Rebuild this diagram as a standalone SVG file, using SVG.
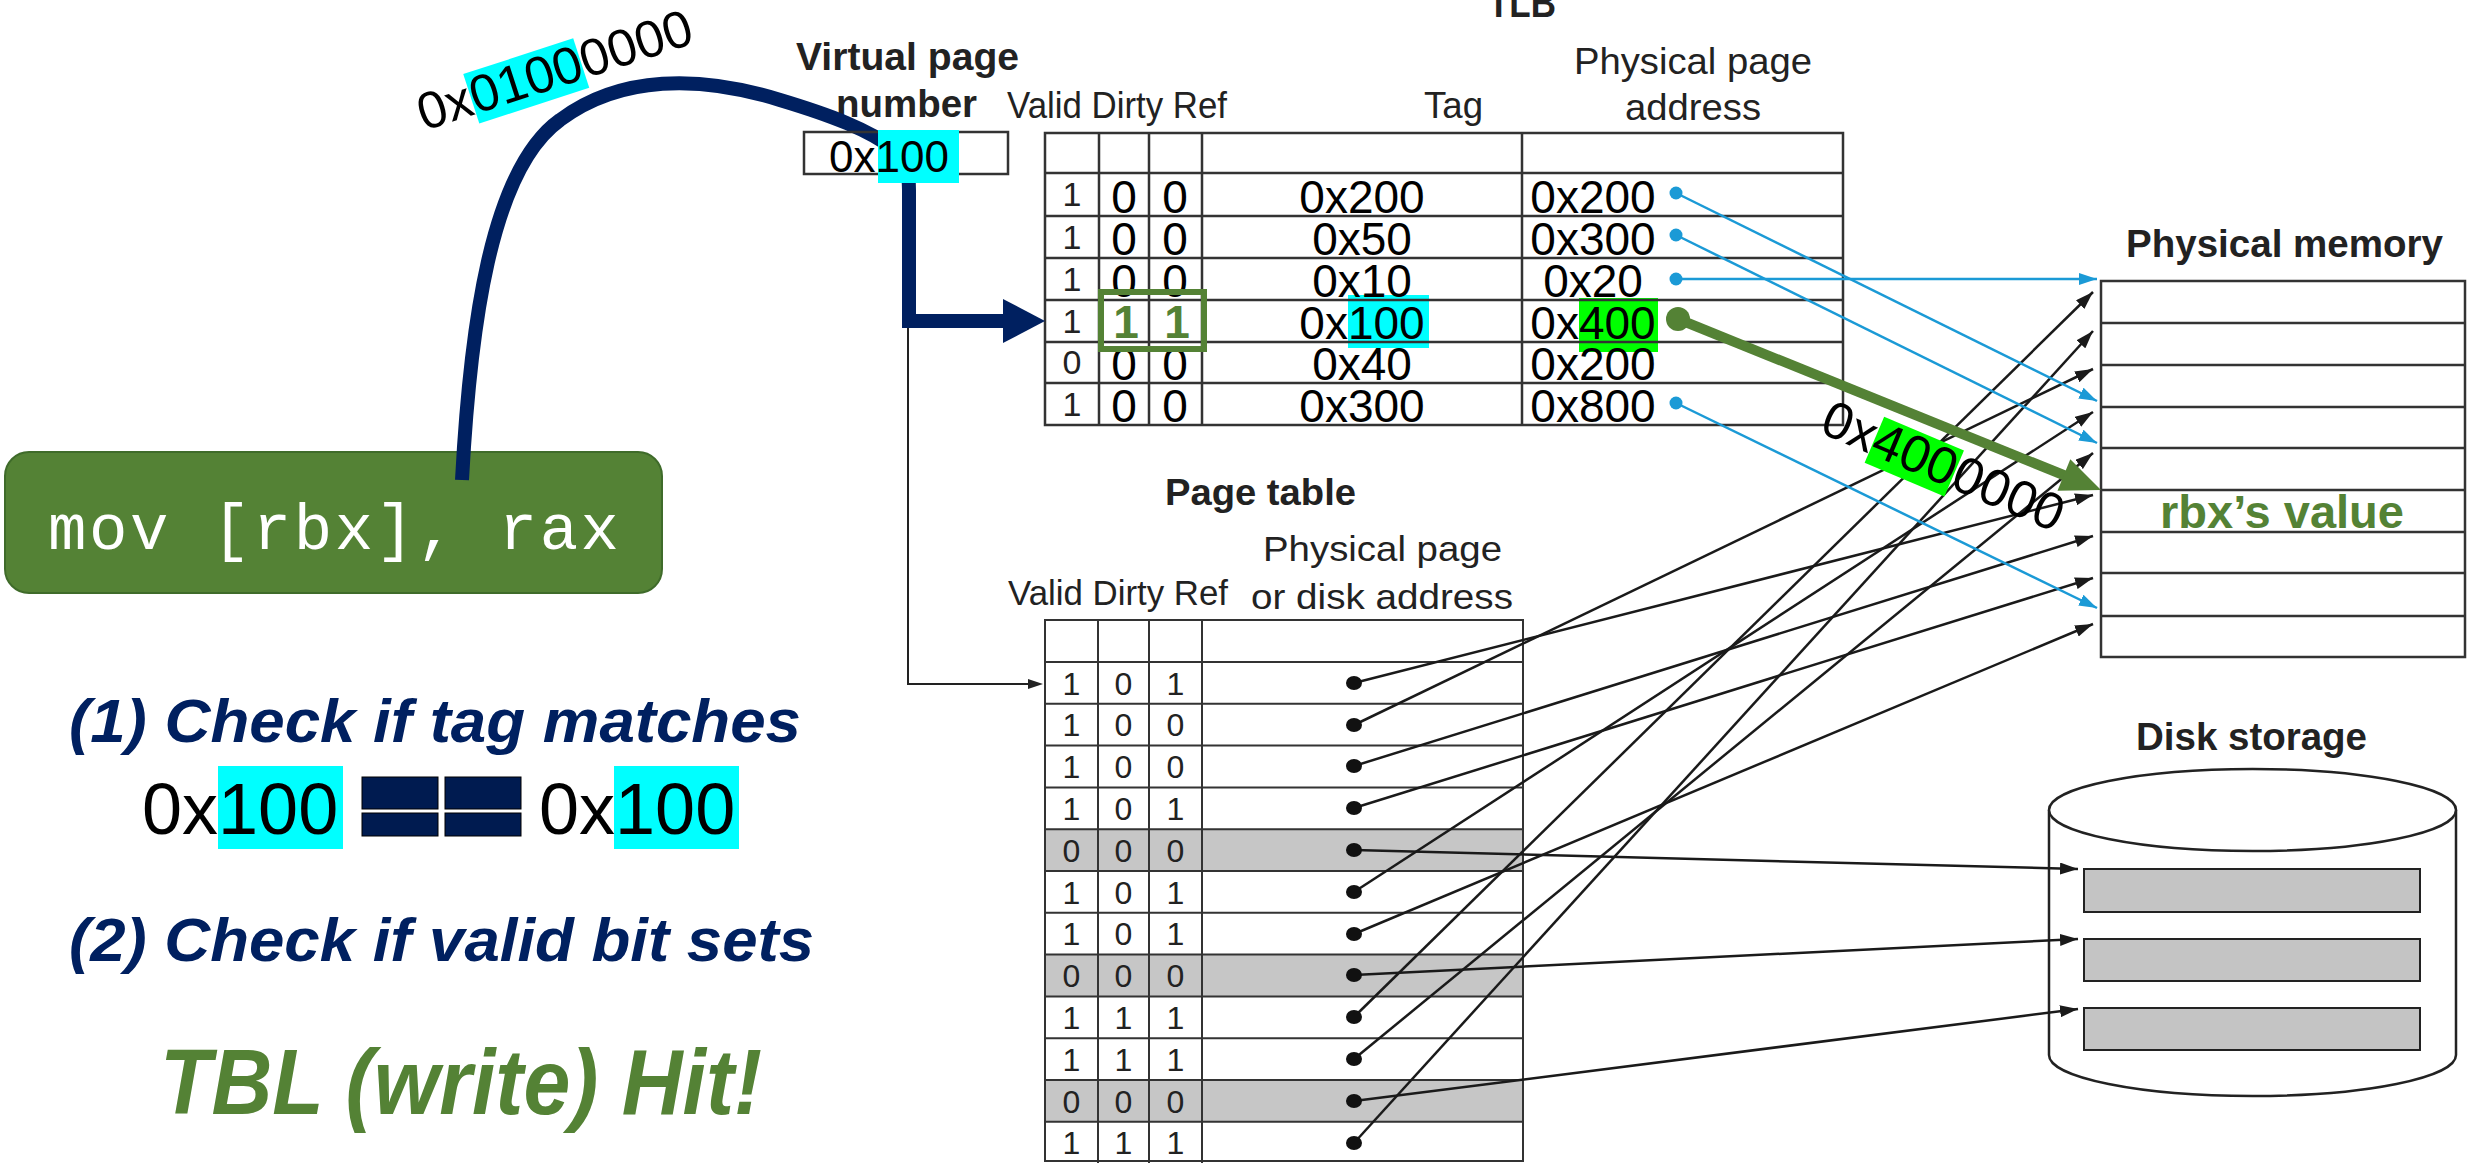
<svg xmlns="http://www.w3.org/2000/svg" width="2468" height="1163" viewBox="0 0 2468 1163">
<style>
.f{font-family:"Liberation Sans",Arial,Helvetica,sans-serif}
.hdr{font-family:"Liberation Sans",Arial,sans-serif;font-size:37px;fill:#222}
.phdr{font-family:"Liberation Sans",Arial,sans-serif;font-size:35px;fill:#222}
.b{font-weight:bold}
.big{font-family:"Liberation Sans",Arial,sans-serif;font-size:46px;fill:#000;text-anchor:middle}
.val{font-family:"Liberation Sans",Arial,sans-serif;font-size:34px;fill:#222;text-anchor:middle}
.pt{font-family:"Liberation Sans",Arial,sans-serif;font-size:32px;fill:#222;text-anchor:middle}
.grid{fill:none;stroke:#333;stroke-width:2.5}
.gl{stroke:#333;stroke-width:2.5}
.bl{stroke:#1a1a1a;stroke-width:2.5;fill:none}
.blue{stroke:#1b9ad6;stroke-width:2.5;fill:none}
.dot{fill:#111}
.bdot{fill:#1b9ad6}
.cyan{fill:#00ffff}
.lime{fill:#00ff00}
.note{font-family:"Liberation Sans",Arial,sans-serif;font-weight:bold;font-style:italic;font-size:62px;fill:#002060}
</style>
<defs>
<marker id="ab" markerUnits="userSpaceOnUse" markerWidth="18" markerHeight="12" refX="18" refY="6" orient="auto"><path d="M0,0 L18,6 L0,12 z" fill="#1a1a1a"/></marker>
<marker id="au" markerUnits="userSpaceOnUse" markerWidth="18" markerHeight="12" refX="18" refY="6" orient="auto"><path d="M0,0 L18,6 L0,12 z" fill="#1b9ad6"/></marker>
</defs>
<rect width="2468" height="1163" fill="#fff"/>

<g id="instruction">
<rect x="5" y="452" width="657" height="141" rx="24" fill="#548235" stroke="#3f6b2a" stroke-width="2"/>
<text x="48" y="549" font-family="'Liberation Mono','DejaVu Sans Mono',monospace" font-size="64" fill="#fff" textLength="571">mov [rbx], rax</text>
</g>

<g id="steps">
<text class="note" x="69" y="742" textLength="732" lengthAdjust="spacingAndGlyphs">(1) Check if tag matches</text>
<rect class="cyan" x="218" y="766" width="125" height="83"/>
<rect class="cyan" x="614" y="766" width="125" height="83"/>
<text class="f" x="142" y="834" font-size="72">0x100</text>
<text class="f" x="539" y="834" font-size="72">0x100</text>
<rect x="362" y="777" width="76" height="32" fill="#001b50" stroke="#000" stroke-width="1"/>
<rect x="362" y="813" width="76" height="23" fill="#001b50" stroke="#000" stroke-width="1"/>
<rect x="445" y="777" width="76" height="32" fill="#001b50" stroke="#000" stroke-width="1"/>
<rect x="445" y="813" width="76" height="23" fill="#001b50" stroke="#000" stroke-width="1"/>
<text class="note" x="69" y="961" textLength="745" lengthAdjust="spacingAndGlyphs">(2) Check if valid bit sets</text>
<text class="f b" x="160" y="1114" font-size="92" font-style="italic" fill="#548235" textLength="602" lengthAdjust="spacingAndGlyphs">TBL (write) Hit!</text>
</g>

<g id="vpn">
<text class="f b" x="796" y="70" font-size="38" fill="#222" textLength="223" lengthAdjust="spacingAndGlyphs">Virtual page</text>
<text class="f b" x="836" y="117" font-size="38" fill="#222" textLength="141" lengthAdjust="spacingAndGlyphs">number</text>
</g>

<g id="tlb">
<text class="f b" x="1488" y="17" font-size="40" fill="#222" textLength="68" lengthAdjust="spacingAndGlyphs">TLB</text>
<text class="hdr" x="1007" y="118" textLength="220" lengthAdjust="spacingAndGlyphs">Valid Dirty Ref</text>
<text class="hdr" x="1424" y="118" textLength="59" lengthAdjust="spacingAndGlyphs">Tag</text>
<text class="hdr" x="1574" y="74" textLength="238" lengthAdjust="spacingAndGlyphs">Physical page</text>
<text class="hdr" x="1625" y="120" textLength="136" lengthAdjust="spacingAndGlyphs">address</text>
<rect class="cyan" x="1348" y="295" width="81" height="53"/>
<rect class="lime" x="1579" y="298" width="79" height="54"/>
<rect class="grid" x="1045" y="133" width="798" height="292"/>
<path class="gl" d="M1045,173H1843M1045,216H1843M1045,258H1843M1045,300H1843M1045,342H1843M1045,383H1843M1099,133V425M1149,133V425M1202,133V425M1522,133V425"/>
<g class="val">
<text x="1072" y="206">1</text><text x="1072" y="249">1</text><text x="1072" y="291">1</text><text x="1072" y="333">1</text><text x="1072" y="374">0</text><text x="1072" y="416">1</text>
</g>
<g class="big">
<text x="1124" y="213">0</text><text x="1175" y="213">0</text><text x="1362" y="213">0x200</text><text x="1593" y="213">0x200</text>
<text x="1124" y="255">0</text><text x="1175" y="255">0</text><text x="1362" y="255">0x50</text><text x="1593" y="255">0x300</text>
<text x="1124" y="297">0</text><text x="1175" y="297">0</text><text x="1362" y="297">0x10</text><text x="1593" y="297">0x20</text>
<text x="1362" y="339">0x100</text><text x="1593" y="339">0x400</text>
<text x="1124" y="380">0</text><text x="1175" y="380">0</text><text x="1362" y="380">0x40</text><text x="1593" y="380">0x200</text>
<text x="1124" y="422">0</text><text x="1175" y="422">0</text><text x="1362" y="422">0x300</text><text x="1593" y="422">0x800</text>
</g>
<text class="f b" x="1126" y="338" font-size="46" fill="#548235" text-anchor="middle">1</text>
<text class="f b" x="1177" y="338" font-size="46" fill="#548235" text-anchor="middle">1</text>
<rect x="1101" y="292" width="103" height="57" fill="none" stroke="#548235" stroke-width="6"/>
<circle class="bdot" cx="1676" cy="193" r="6.5"/>
<circle class="bdot" cx="1676" cy="235" r="6.5"/>
<circle class="bdot" cx="1676" cy="279" r="6.5"/>
<circle class="bdot" cx="1676" cy="403" r="6.5"/>
</g>

<g id="page-table">
<text class="f b" x="1165" y="505" font-size="37" fill="#222" textLength="191" lengthAdjust="spacingAndGlyphs">Page table</text>
<text class="phdr" x="1263" y="561" textLength="239" lengthAdjust="spacingAndGlyphs">Physical page</text>
<text class="phdr" x="1008" y="605" textLength="220" lengthAdjust="spacingAndGlyphs">Valid Dirty Ref</text>
<text class="phdr" x="1251" y="609" textLength="262" lengthAdjust="spacingAndGlyphs">or disk address</text>
<rect x="1045" y="829.2" width="478" height="41.8" fill="#c6c6c6"/>
<rect x="1045" y="954.6" width="478" height="41.8" fill="#c6c6c6"/>
<rect x="1045" y="1080" width="478" height="41.8" fill="#c6c6c6"/>
<rect x="1045" y="620" width="478" height="541" fill="none" stroke="#333" stroke-width="2"/>
<path stroke="#333" stroke-width="2" d="M1045,662H1523M1045,703.8H1523M1045,745.6H1523M1045,787.4H1523M1045,829.2H1523M1045,871H1523M1045,912.8H1523M1045,954.6H1523M1045,996.4H1523M1045,1038.2H1523M1045,1080H1523M1045,1121.8H1523M1098,620V1163M1149,620V1163M1202,620V1163"/>
<g class="pt">
<text x="1071.5" y="694.5">1</text><text x="1123.5" y="694.5">0</text><text x="1175.5" y="694.5">1</text>
<text x="1071.5" y="736.3">1</text><text x="1123.5" y="736.3">0</text><text x="1175.5" y="736.3">0</text>
<text x="1071.5" y="778.1">1</text><text x="1123.5" y="778.1">0</text><text x="1175.5" y="778.1">0</text>
<text x="1071.5" y="819.9">1</text><text x="1123.5" y="819.9">0</text><text x="1175.5" y="819.9">1</text>
<text x="1071.5" y="861.7">0</text><text x="1123.5" y="861.7">0</text><text x="1175.5" y="861.7">0</text>
<text x="1071.5" y="903.5">1</text><text x="1123.5" y="903.5">0</text><text x="1175.5" y="903.5">1</text>
<text x="1071.5" y="945.3">1</text><text x="1123.5" y="945.3">0</text><text x="1175.5" y="945.3">1</text>
<text x="1071.5" y="987.1">0</text><text x="1123.5" y="987.1">0</text><text x="1175.5" y="987.1">0</text>
<text x="1071.5" y="1028.9">1</text><text x="1123.5" y="1028.9">1</text><text x="1175.5" y="1028.9">1</text>
<text x="1071.5" y="1070.7">1</text><text x="1123.5" y="1070.7">1</text><text x="1175.5" y="1070.7">1</text>
<text x="1071.5" y="1112.5">0</text><text x="1123.5" y="1112.5">0</text><text x="1175.5" y="1112.5">0</text>
<text x="1071.5" y="1154.3">1</text><text x="1123.5" y="1154.3">1</text><text x="1175.5" y="1154.3">1</text>
</g>
</g>

<g id="physical-memory">
<text class="f b" x="2126" y="257" font-size="38" fill="#222" textLength="317" lengthAdjust="spacingAndGlyphs">Physical memory</text>
<rect x="2101" y="281" width="364" height="376" fill="none" stroke="#333" stroke-width="2.5"/>
<path class="gl" d="M2101,323H2465M2101,365H2465M2101,407H2465M2101,448H2465M2101,490H2465M2101,532H2465M2101,573H2465M2101,616H2465"/>
<text class="f b" x="2160" y="528" font-size="46" fill="#548235" textLength="244" lengthAdjust="spacingAndGlyphs">rbx’s value</text>
</g>

<g id="disk-storage">
<text class="f b" x="2136" y="750" font-size="38" fill="#222" textLength="231" lengthAdjust="spacingAndGlyphs">Disk storage</text>
<path d="M2049,810 L2049,1055 A203.5,41 0 0 0 2456,1055 L2456,810" fill="#fff" stroke="#222" stroke-width="2.5"/>
<ellipse cx="2252.5" cy="810" rx="203.5" ry="41" fill="#fff" stroke="#222" stroke-width="2.5"/>
<rect x="2084" y="869" width="336" height="43" fill="#c4c4c4" stroke="#222" stroke-width="2"/>
<rect x="2084" y="939" width="336" height="42" fill="#c4c4c4" stroke="#222" stroke-width="2"/>
<rect x="2084" y="1008" width="336" height="42" fill="#c4c4c4" stroke="#222" stroke-width="2"/>
</g>

<g id="connectors">
<path d="M462,480 C470,330 490,170 560,120 C620,75 700,75 780,100 C830,115 870,130 895,150 Q909,162 909,190 L909,321 L1008,321" fill="none" stroke="#002060" stroke-width="14" stroke-linejoin="miter"/>
<polygon points="1003,299 1045,321 1003,343" fill="#002060"/>
<path d="M908,328 L908,684 L1030,684" fill="none" stroke="#222" stroke-width="2"/>
<polygon points="1028,679 1043,684 1028,689" fill="#222"/>
<line class="bl" x1="1354" y1="683" x2="2093" y2="495" marker-end="url(#ab)"/>
<line class="bl" x1="1354" y1="725" x2="2093" y2="369" marker-end="url(#ab)"/>
<line class="bl" x1="1354" y1="766" x2="2093" y2="536" marker-end="url(#ab)"/>
<line class="bl" x1="1354" y1="808" x2="2093" y2="578" marker-end="url(#ab)"/>
<line class="bl" x1="1354" y1="892" x2="2093" y2="412" marker-end="url(#ab)"/>
<line class="bl" x1="1354" y1="934" x2="2093" y2="624" marker-end="url(#ab)"/>
<line class="bl" x1="1354" y1="1017" x2="2093" y2="292" marker-end="url(#ab)"/>
<line class="bl" x1="1354" y1="1059" x2="2093" y2="453" marker-end="url(#ab)"/>
<line class="bl" x1="1354" y1="1143" x2="2093" y2="331" marker-end="url(#ab)"/>
<line class="bl" x1="1354" y1="850" x2="2078" y2="869" marker-end="url(#ab)"/>
<line class="bl" x1="1354" y1="975" x2="2078" y2="939" marker-end="url(#ab)"/>
<line class="bl" x1="1354" y1="1101" x2="2078" y2="1009" marker-end="url(#ab)"/>
<g class="dot">
<ellipse cx="1354" cy="683" rx="8" ry="7"/><ellipse cx="1354" cy="725" rx="8" ry="7"/><ellipse cx="1354" cy="766" rx="8" ry="7"/><ellipse cx="1354" cy="808" rx="8" ry="7"/>
<ellipse cx="1354" cy="850" rx="8" ry="7"/><ellipse cx="1354" cy="892" rx="8" ry="7"/><ellipse cx="1354" cy="934" rx="8" ry="7"/><ellipse cx="1354" cy="975" rx="8" ry="7"/>
<ellipse cx="1354" cy="1017" rx="8" ry="7"/><ellipse cx="1354" cy="1059" rx="8" ry="7"/><ellipse cx="1354" cy="1101" rx="8" ry="7"/><ellipse cx="1354" cy="1143" rx="8" ry="7"/>
</g>
<line class="blue" x1="1676" y1="193" x2="2097" y2="401" marker-end="url(#au)"/>
<line class="blue" x1="1676" y1="235" x2="2097" y2="443" marker-end="url(#au)"/>
<line class="blue" x1="1676" y1="279" x2="2097" y2="279" marker-end="url(#au)"/>
<line class="blue" x1="1676" y1="403" x2="2097" y2="608" marker-end="url(#au)"/>
<line x1="1678" y1="319" x2="2066" y2="476" stroke="#548235" stroke-width="10"/>
<polygon points="2101,490 2057.5,490.8 2070.3,459.2" fill="#548235"/>
<circle cx="1678" cy="319" r="12" fill="#548235"/>
</g>

<g id="vpn-box">
<rect x="804" y="132" width="204" height="42" fill="none" stroke="#333" stroke-width="2.5"/>
<rect class="cyan" x="878" y="130" width="81" height="53"/>
<text class="f" x="829" y="172" font-size="44">0x100</text>
</g>

<g id="address-labels">
<g transform="translate(1818,432) rotate(23)">
<rect class="lime" x="54.9" y="-40" width="86.7" height="50"/>
<text class="f" x="0" y="0" font-size="52">0x4000000</text>
</g>
<g transform="translate(424,131) rotate(-18)">
<rect class="cyan" x="54.9" y="-42" width="115.6" height="52"/>
<text class="f" x="0" y="0" font-size="52">0x01000000</text>
</g>
</g>
</svg>
